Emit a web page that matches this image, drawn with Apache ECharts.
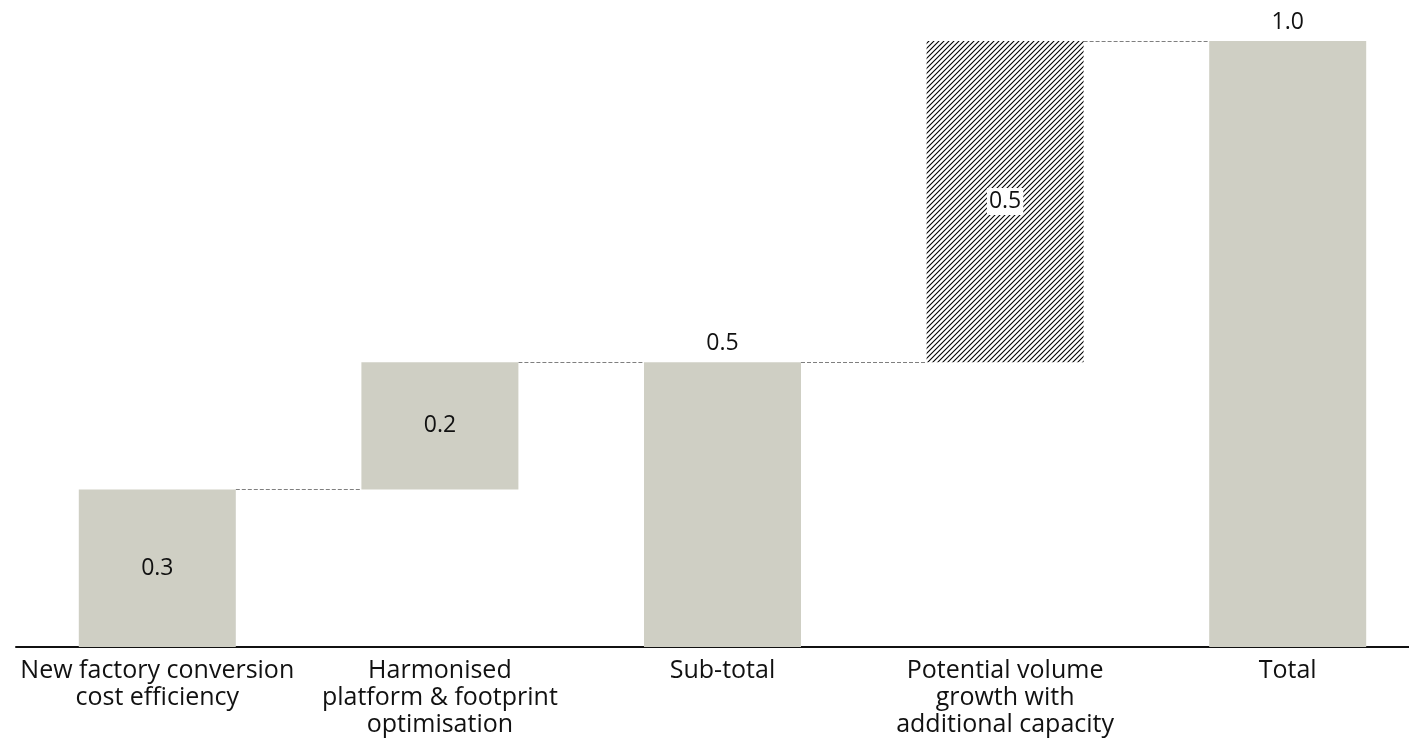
<!DOCTYPE html>
<html>
<head>
<meta charset="utf-8">
<script src="https://cdn.jsdelivr.net/npm/echarts@6/dist/echarts.min.js"></script>
<style>
html,body{margin:0;padding:0;background:#fff;overflow:hidden;width:1409px;height:742px;}
#chart{width:1432px;height:742px;}
</style>
</head>
<body>
<div id="chart"></div>
<script>
// ---- data ----
var categories = [
  "New factory conversion\ncost efficiency",
  "Harmonised\nplatform & footprint\noptimisation",
  "Sub-total",
  "Potential volume\ngrowth with\nadditional capacity",
  "Total"
];
var barValues = [0.26, 0.21, 0.47, 0.53, 1.00];
var barBases  = [0, 0.26, 0, 0.47, 0];
var valueLabels = ["0.3", "0.2", "0.5", "0.5", "1.0"];
var barKinds = ["step", "step", "total", "potential", "total"];

// ---- styles ----
var FONT = "'Open Sans', 'Noto Sans', sans-serif";
var GREY = "#cfcfc4";
var TEXT = "#111111";

function makeHatch() {
  var c = document.createElement('canvas');
  var s = 5;
  c.width = s; c.height = s;
  var ctx = c.getContext('2d');
  ctx.fillStyle = '#fff';
  ctx.fillRect(0, 0, s, s);
  ctx.strokeStyle = '#000';
  ctx.lineWidth = 1.1;
  ctx.beginPath();
  ctx.moveTo(-1, s + 1); ctx.lineTo(s + 1, -1);
  ctx.moveTo(-1, 1); ctx.lineTo(1, -1);
  ctx.moveTo(s - 1, s + 1); ctx.lineTo(s + 1, s - 1);
  ctx.stroke();
  return c;
}
var hatch = { image: makeHatch(), repeat: 'repeat' };

var barData = barValues.map(function (v, i) {
  var kind = barKinds[i];
  var item = {
    value: v,
    itemStyle: { color: kind === 'potential' ? hatch : GREY },
    label: {
      show: true,
      formatter: valueLabels[i],
      position: kind === 'total' ? 'top' : 'inside',
      distance: 6,
      color: TEXT,
      fontFamily: FONT,
      fontSize: 23,
      lineHeight: 25
    }
  };
  if (kind === 'potential') {
    item.label.backgroundColor = '#fff';
    item.label.padding = [1, 2, 1, 2];
  }
  return item;
});

// connector levels: top of each bar
var connectorData = [];
for (var i = 0; i < barValues.length - 1; i++) {
  connectorData.push([i, barBases[i] + barValues[i]]);
}

var BAR_W = 157;

var chart = echarts.init(document.getElementById('chart'), null, { renderer: 'canvas' });
chart.setOption({
  animation: false,
  grid: { left: 16, top: 41, right: 3, height: 606, containLabel: false },
  xAxis: {
    type: 'category',
    data: categories,
    axisLine: { show: true, lineStyle: { color: '#111', width: 2 } },
    axisTick: { show: false },
    axisLabel: {
      interval: 0,
      color: TEXT,
      fontFamily: FONT,
      fontSize: 25,
      lineHeight: 27,
      margin: 10
    }
  },
  yAxis: {
    type: 'value',
    min: 0,
    max: 1.0,
    show: false,
    splitLine: { show: false }
  },
  series: [
    {
      name: 'base',
      type: 'bar',
      stack: 'wf',
      barWidth: BAR_W,
      itemStyle: { color: 'transparent' },
      data: barBases,
      silent: true
    },
    {
      name: 'value',
      type: 'bar',
      stack: 'wf',
      barWidth: BAR_W,
      data: barData
    },
    {
      name: 'connectors',
      type: 'custom',
      silent: true,
      z: 1,
      data: connectorData,
      renderItem: function (params, api) {
        var idx = api.value(0);
        var level = api.value(1);
        var p1 = api.coord([idx, level]);
        var p2 = api.coord([idx + 1, level]);
        return {
          type: 'line',
          shape: {
            x1: p1[0] + BAR_W / 2, y1: Math.round(p1[1]) + 0.5,
            x2: p2[0] - BAR_W / 2, y2: Math.round(p2[1]) + 0.5
          },
          style: { stroke: '#7f7f7f', lineWidth: 1, lineDash: [4, 2] }
        };
      }
    }
  ]
});
</script>
</body>
</html>
